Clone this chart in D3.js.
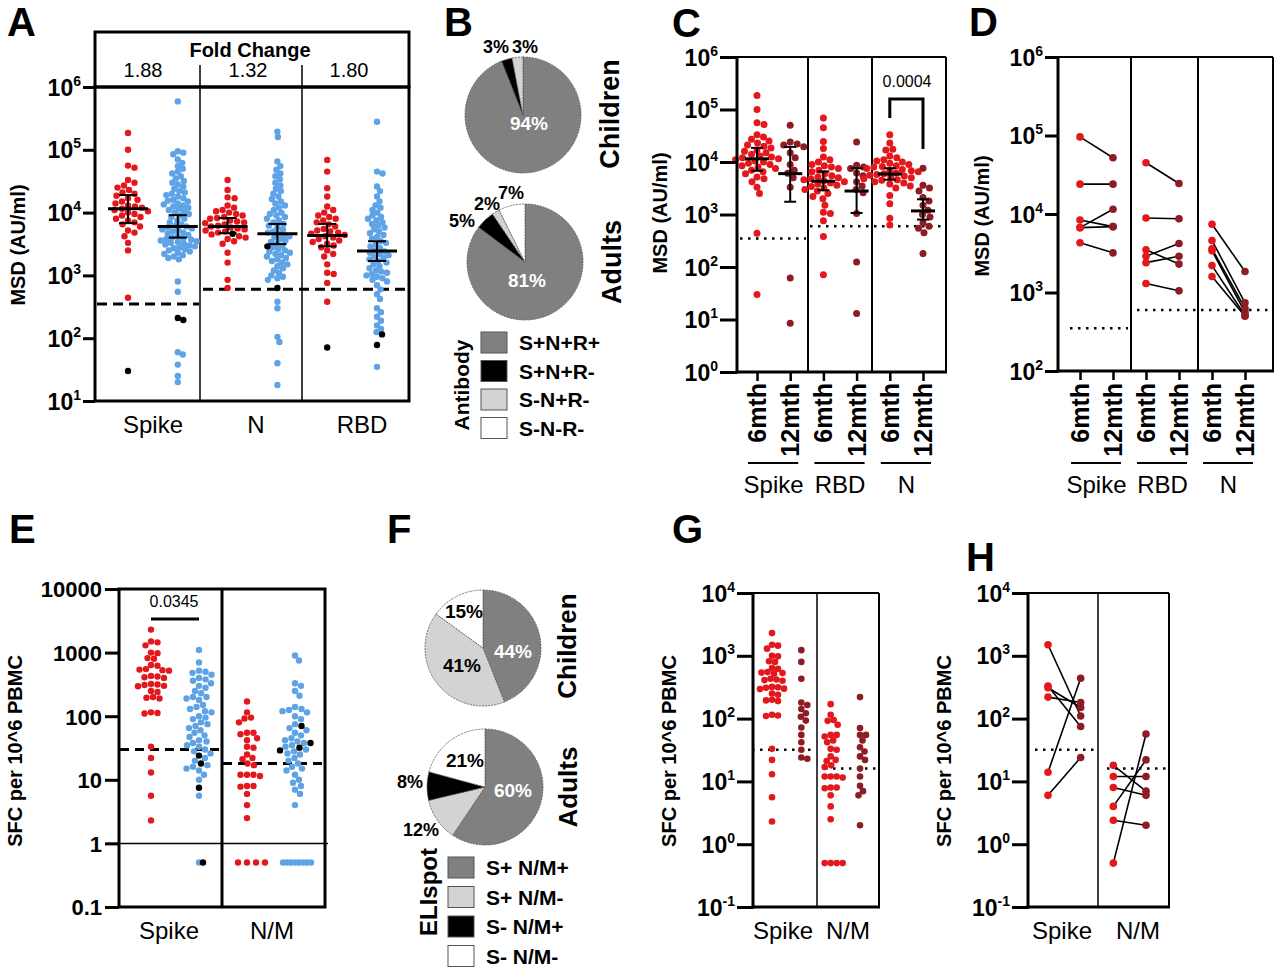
<!DOCTYPE html>
<html>
<head>
<meta charset="utf-8">
<script src="https://cdn.jsdelivr.net/npm/d3@7"></script>
<style>
  body { margin: 0; background: #fff; }
  text { font-family: Arial, 'Liberation Sans', Helvetica, sans-serif; }
</style>
</head>
<body>
<script>
// ---------------- data ----------------
// A: antibody levels, children (red) vs adults (blue); "Neg" = black dots
const aSpikeChildren = [185000, 100000, 56000, 52000, 33000, 30000, 27000, 25000, 23000, 21000, 20000, 18500, 17000, 16000, 15000, 14000, 13000, 12500, 12000, 11500, 11000, 10500, 10000, 9500, 9000, 8500, 8000, 7500, 7000, 6500, 6000, 5200, 4800, 4200, 3300, 2500, 440];
const aSpikeChildrenNeg = [30];
const aSpikeAdults = [590000, 95000, 90000, 85000, 70000, 62000, 55000, 50000, 45000, 42000, 38000, 35000, 32000, 30000, 28000, 26000, 24000, 22000, 21000, 20000,
  19000, 18000, 17000, 16000, 15500, 15000, 14000, 13500, 13000, 12500, 12000, 11500, 11000, 10500, 10000, 9500, 9000, 8500, 8000, 7500, 7000, 6500, 6200,
  6000, 5800, 5600, 5400, 5200, 5000, 4800, 4600, 4400, 4200, 4000, 3900, 3800, 3700, 3600, 3500, 3400, 3300, 3200, 3100, 3000, 2900, 2800, 2700, 2600, 2500, 2400, 2300, 2200, 2100, 2000, 1900, 1800,
  800, 550, 60, 55, 38, 25, 20];
const aSpikeAdultsNeg = [210, 195];
const aNChildren = [33000, 23000, 17500, 17000, 13000, 12000, 11000, 10500, 10000, 9500, 9000, 8500, 8200, 8000, 7500, 7200, 7000, 6800, 6500, 6200, 6000, 5800, 5600, 5400, 5200, 5000, 4800, 4500, 4200, 4000, 3800, 3500, 3200, 2300, 1600, 850, 630];
const aNChildrenNeg = [4600];
const aNAdults = [195000, 160000, 65000, 55000, 48000, 42000, 38000, 34000, 30000, 27000, 24000, 22000, 20000, 18000, 16500, 15000, 14000, 13000, 12000, 11000,
  10000, 9500, 9000, 8500, 8000, 7500, 7000, 6600, 6200, 5800, 5400, 5000, 4800, 4600, 4400, 4200, 4000, 3800, 3600, 3400, 3200, 3000, 2800, 2600, 2500,
  2400, 2300, 2200, 2100, 2000, 1900, 1800, 1700, 1600, 1500, 1400, 1300, 1200, 1100, 1000, 950, 900, 850, 380, 300, 105, 87, 40, 18];
const aNAdultsNeg = [2900, 630];
const aRBDChildren = [69000, 45000, 24500, 18000, 12500, 11000, 10000, 9000, 8500, 8000, 7500, 7000, 6500, 6000, 5500, 5200, 5000, 4800, 4600, 4400, 4200, 4000, 3800, 3600, 3400, 3200, 3000, 2800, 2500, 2200, 2000, 1500, 1100, 1050, 760, 380];
const aRBDChildrenNeg = [71];
const aRBDAdults = [280000, 45000, 42000, 26000, 22000, 18000, 15000, 13000, 12000, 11000, 10000, 9000, 8500, 8000, 7500, 7000, 6600, 6200, 5800, 5400,
  5000, 4700, 4400, 4100, 3800, 3500, 3300, 3100, 2900, 2700, 2500, 2400, 2300, 2200, 2100, 2000, 1900, 1800, 1700, 1600, 1500, 1400, 1300, 1200, 1150,
  1100, 1050, 1000, 950, 900, 850, 800, 700, 600, 500, 420, 300, 260, 220, 190, 160, 140, 125, 35];
const aRBDAdultsNeg = [115, 78];
const aMedian = [11500, 6000, 6000, 4600, 4300, 2450];
const aLow = [6800, 4000, 4700, 3150, 2900, 1700];
const aHigh = [19000, 9100, 8200, 6600, 6600, 3500];
const aFold = ["1.88", "1.32", "1.80"];
const aGroups = ["Spike", "N", "RBD"];
const aCutoff = [350, 600];
const msdTicks = [1, 10, 100, 1e3, 1e4, 1e5, 1e6];

// B: antibody profile pies
const bKeys = ["S+N+R+", "S+N+R-", "S-N+R-", "S-N-R-"];
const bChildren = [94, 3, 3, 0];
const bAdults = [81, 5, 2, 7];

// C: children 6 vs 12 months
const cTimes = ["6mth", "12mth"];
const cGroups = ["Spike", "RBD", "N"];
const cSpike12 = [50000, 24000, 22000, 21000, 19500, 15000, 12000, 9000, 7000, 6100, 5000, 3300, 62, 8.5];
const cRBD12 = [24000, 8700, 8000, 7500, 6200, 5500, 4200, 3500, 3000, 2600, 1050, 125, 13];
const cN12 = [7600, 3600, 3200, 2800, 2100, 1800, 1500, 1200, 1000, 900, 700, 600, 550, 450, 180];
const cMedian = [11500, 6000, 4300, 2800, 5900, 1170];
const cLow = [6800, 1750, 2900, 1070, 4600, 800];
const cHigh = [18600, 19400, 6600, 7600, 7600, 1950];
const cPval = "0.0004";

// D: paired children
const dSpike6 = [96000, 24000, 8400, 6700, 6700, 4300];
const dSpike12 = [52000, 24000, 6900, 11500, 6900, 3200];
const dRBD6 = [45000, 8900, 3500, 2900, 2400, 1300];
const dRBD12 = [24500, 8700, 2300, 4200, 2900, 1050];
const dN6 = [7400, 4600, 3600, 3400, 2200, 1600];
const dN12 = [1850, 740, 630, 560, 510, 500];

// E: ELISpot children (red) vs adults (blue)
const eSpikeChildren = [2300, 1500, 1450, 1300, 1000, 980, 820, 800, 640, 620, 550, 540, 530, 520, 430, 420, 410, 400, 320, 315, 310, 300, 295, 250, 240, 200, 195, 190, 115, 112, 110, 33, 22, 13, 5.6, 2.3];
const eSpikeAdults = [1100, 700, 520, 500, 480, 450, 400, 380, 360, 330, 300, 280, 250, 230, 200, 200, 190, 180, 150, 140, 130, 120, 115, 100, 95, 90, 80, 75, 70, 65, 60, 55, 50, 47, 42, 40, 38, 35, 33, 30, 28, 26, 22, 20, 17, 16, 15, 14, 12, 10, 5.6];
const eSpikeAdultsNeg = [24, 18, 7.5];
const eSpikeAdultsND = [0.5];
const eSpikeAdultsNegND = [0.5];
const eNMChildren = [170, 115, 95, 92, 80, 55, 55, 52, 45, 42, 33, 32, 25, 22, 21, 18, 17, 12, 12, 12, 11.5, 8, 8, 7.8, 6, 4, 2.5];
const eNMChildrenND = [0.5, 0.5, 0.5, 0.5];
const eNMAdults = [900, 750, 330, 300, 250, 210, 140, 130, 125, 120, 115, 100, 90, 75, 65, 60, 55, 50, 45, 42, 40, 38, 35, 33, 30, 28, 26, 25, 22, 20, 18, 16, 15, 14, 12, 10, 9, 8, 7, 6, 4];
const eNMAdultsNeg = [70, 38, 32, 29];
const eNMAdultsND = [0.5, 0.5, 0.5, 0.5, 0.5, 0.5, 0.5, 0.5];
const eGroups = ["Spike", "N/M"];
const eCutoff = [30, 18];
const ePval = "0.0345";
const eTicks = [0.1, 1, 10, 100, 1000, 10000];

// F: ELISpot profile pies
const fKeys = ["S+ N/M+", "S+ N/M-", "S- N/M+", "S- N/M-"];
const fChildren = [44, 41, 0, 15];
const fAdults = [60, 12, 8, 21];

// G / H: ELISpot 6 vs 12 months
const gSpike12 = [1230, 800, 430, 180, 165, 142, 122, 107, 93, 72, 55, 42, 32, 24, 23];
const gNM12 = [220, 71, 55, 55, 45, 35, 30, 25, 22, 16, 12, 8.5, 7, 6, 2];
const gCutoff = [32, 16];
const sfcTicks = [0.1, 1, 10, 100, 1000, 10000];
const hSpike6 = [1500, 330, 310, 220, 14, 6];
const hSpike12 = [110, 75, 150, 180, 440, 24];
const hNM6 = [18, 12, 8, 4, 2.4, 0.5];
const hNM12 = [7, 12, 6, 22, 2, 57];

// ---------------- drawing ----------------
const RED = "#e3181d", BLUE = "#5ea3e6", DARK = "#8e1c24", BLACK = "#000";
const svg = d3.select("body").append("svg").attr("width", 1280).attr("height", 979);

function txt(x, y, s, size, o = {}) {
  return svg.append("text").attr("x", x).attr("y", y).attr("font-size", size)
    .attr("font-weight", o.bold ? "bold" : "normal")
    .attr("text-anchor", o.anchor || "middle")
    .attr("fill", o.fill || "#000")
    .attr("transform", o.rot ? `rotate(-90,${x},${y})` : null)
    .text(s);
}
function line(x1, y1, x2, y2, w, dash) {
  return svg.append("line").attr("x1", x1).attr("y1", y1).attr("x2", x2).attr("y2", y2)
    .attr("stroke", "#000").attr("stroke-width", w).attr("stroke-dasharray", dash || null);
}
function frame(x0, x1, y0, y1, side, thick) {
  line(x0, y0, x1, y0, side); line(x1, y0, x1, y1, side);
  line(x0, y0 - 1, x0, y1 + 1.5, thick); line(x0 - 1.5, y1, x1 + 1, y1, thick);
}
function powAxis(y, x0, ticks, len) {
  const g = svg.append("g").attr("transform", `translate(${x0},0)`);
  g.call(d3.axisLeft(y).tickValues(ticks).tickSize(len).tickSizeOuter(0).tickFormat(""));
  g.select(".domain").remove();
  g.selectAll(".tick line").attr("stroke", "#000").attr("stroke-width", 3);
  g.selectAll(".tick").each(function (d) {
    const t = d3.select(this).append("text").attr("x", -len - 2).attr("y", 8).attr("dy", 0)
      .attr("text-anchor", "end").attr("font-size", 23).attr("font-weight", "bold").attr("fill", "#000");
    t.append("tspan").text("10");
    t.append("tspan").attr("dy", -10).attr("font-size", 14).text(Math.round(Math.log10(d)));
  });
}
function swarm(items, y, cx, d) {
  const out = [];
  items.slice().sort((a, b) => b.v - a.v).forEach(it => {
    const py = y(it.v);
    let px = cx;
    for (let k = 0; k < 800; k++) {
      const tx = cx + (k % 2 ? 1 : -1) * Math.ceil(k / 2) * 0.5;
      if (out.every(o => (o.x - tx) ** 2 + (o.y - py) ** 2 >= d * d)) { px = tx; break; }
    }
    out.push({ v: it.v, c: it.c, x: px, y: py });
  });
  return out;
}
const mk = (vals, c) => vals.map(v => ({ v, c }));
function dots(pts, r) {
  const sorted = pts.slice().sort((a, b) => (a.c === BLACK) - (b.c === BLACK));
  svg.append("g").selectAll("circle").data(sorted).join("circle")
    .attr("cx", d => d.x).attr("cy", d => d.y).attr("r", r).attr("fill", d => d.c);
}
function medBar(cx, y, med, lo, hi, hw, cw, wm, we) {
  line(cx, y(hi), cx, y(lo), we);
  line(cx - cw, y(hi), cx + cw, y(hi), we);
  line(cx - cw, y(lo), cx + cw, y(lo), we);
  line(cx - hw, y(med), cx + hw, y(med), wm);
}
function letter(x, y, s) { txt(x, y, s, 40, { bold: true, anchor: "start" }); }
function pie(cx, cy, vals, colors) {
  const arcs = d3.pie().sort(null)(vals);
  const arc = d3.arc().innerRadius(0).outerRadius(58);
  svg.append("g").attr("transform", `translate(${cx},${cy})`)
    .selectAll("path").data(arcs.filter(a => a.value > 0)).join("path")
    .attr("d", arc).attr("fill", d => colors[d.index])
    .attr("stroke", "#555").attr("stroke-width", 0.8).attr("stroke-dasharray", "2,1");
}
function legend(x, y0, step, keys, colors, size) {
  keys.forEach((k, i) => {
    svg.append("rect").attr("x", x).attr("y", y0 + i * step).attr("width", 26).attr("height", 21)
      .attr("fill", colors[i]).attr("stroke", "#555").attr("stroke-width", 1);
    txt(x + 38, y0 + i * step + 18, k, size, { bold: true, anchor: "start" });
  });
}

// ===== Panel A =====
letter(7, 36, "A");
const yA = d3.scaleLog().domain([10, 1e6]).range([401, 87]);
const xA = d3.scalePoint().domain(d3.range(6)).range([128, 377]);
svg.append("rect").attr("x", 95).attr("y", 32).attr("width", 314).attr("height", 55).attr("fill", "none").attr("stroke", "#000").attr("stroke-width", 3);
txt(250, 57, "Fold Change", 20, { bold: true });
[143, 248, 349].forEach((x, i) => txt(x, 77, aFold[i], 20));
[200, 302].forEach(x => line(x, 65, x, 401, 1.5));
line(97, yA(aCutoff[0]), 199, yA(aCutoff[0]), 3, "10,6");
line(203, yA(aCutoff[1]), 407, yA(aCutoff[1]), 3, "10,6");
const aCols = [
  mk(aSpikeChildren, RED).concat(mk(aSpikeChildrenNeg, BLACK)),
  mk(aSpikeAdults, BLUE).concat(mk(aSpikeAdultsNeg, BLACK)),
  mk(aNChildren, RED).concat(mk(aNChildrenNeg, BLACK)),
  mk(aNAdults, BLUE).concat(mk(aNAdultsNeg, BLACK)),
  mk(aRBDChildren, RED).concat(mk(aRBDChildrenNeg, BLACK)),
  mk(aRBDAdults, BLUE).concat(mk(aRBDAdultsNeg, BLACK))
];
aCols.forEach((items, i) => dots(swarm(items, yA, xA(i), i % 2 ? 5.4 : 6.6), 3.2));
aCols.forEach((_, i) => medBar(xA(i), yA, aMedian[i], aLow[i], aHigh[i], 20, 9, 3, 2));
svg.append("rect").attr("x", 95).attr("y", 87).attr("width", 314).attr("height", 314).attr("fill", "none").attr("stroke", "#000").attr("stroke-width", 3);
powAxis(yA, 95, msdTicks.filter(t => t >= 10), 12);
[153, 256, 362].forEach((x, i) => txt(x, 433, aGroups[i], 24));
txt(25, 245, "MSD (AU/ml)", 20, { bold: true, rot: true });

// ===== Panel B =====
letter(444, 36, "B");
const bColors = ["#808080", "#000", "#d3d3d3", "#fff"];
pie(523, 115, bChildren, bColors);
pie(525, 262, bAdults, bColors);
txt(529, 130, bChildren[0] + "%", 19, { bold: true, fill: "#fff" });
txt(496, 53, bChildren[1] + "%", 18, { bold: true });
txt(525, 53, bChildren[2] + "%", 18, { bold: true });
txt(527, 287, bAdults[0] + "%", 19, { bold: true, fill: "#fff" });
txt(462, 227, bAdults[1] + "%", 18, { bold: true });
txt(487, 210, bAdults[2] + "%", 18, { bold: true });
txt(511, 199, bAdults[3] + "%", 18, { bold: true });
txt(619, 114, "Children", 27, { bold: true, rot: true });
txt(621, 262, "Adults", 27, { bold: true, rot: true });
legend(481, 332, 28.5, bKeys, bColors, 21);
txt(469, 385, "Antibody", 21, { bold: true, rot: true });

// ===== Panel C =====
letter(672, 37, "C");
const yC = d3.scaleLog().domain([1, 1e6]).range([372, 57]);
const xC = d3.scalePoint().domain(d3.range(6)).range([757, 923]);
[808, 872].forEach(x => line(x, 57, x, 372, 2));
line(740, yC(aCutoff[0]), 806, yC(aCutoff[0]), 2.5, "2.5,5.5");
line(810, yC(aCutoff[1]), 944, yC(aCutoff[1]), 2.5, "2.5,5.5");
const cCols = [
  mk(aSpikeChildren.concat(aSpikeChildrenNeg), RED), mk(cSpike12, DARK),
  mk(aRBDChildren.concat(aRBDChildrenNeg), RED), mk(cRBD12, DARK),
  mk(aNChildren.concat(aNChildrenNeg), RED), mk(cN12, DARK)
];
cCols.forEach((items, i) => dots(swarm(items, yC, xC(i), 6.8), 3.5));
cCols.forEach((_, i) => medBar(xC(i), yC, cMedian[i], cLow[i], cHigh[i], 12, 6, 3, 2));
frame(737, 946, 57, 372, 2, 3);
powAxis(yC, 737, msdTicks, 17);
const gxC = svg.append("g").attr("transform", "translate(0,372)")
  .call(d3.axisBottom(xC).tickSize(9).tickSizeOuter(0).tickFormat(""));
gxC.select(".domain").remove();
gxC.selectAll(".tick line").attr("stroke", "#000").attr("stroke-width", 2.5);
d3.range(6).forEach(i => txt(xC(i) + 9, 383, cTimes[i % 2], 25, { bold: true, anchor: "end", rot: true }));
d3.range(3).forEach(j => {
  line(xC(2 * j) - 9, 463, xC(2 * j + 1) + 8, 463, 2);
  txt((xC(2 * j) + xC(2 * j + 1)) / 2, 493, cGroups[j], 24);
});
svg.append("path").attr("d", `M${xC(4)},118V99H${xC(5)}V149`).attr("fill", "none").attr("stroke", "#000").attr("stroke-width", 3);
txt(907, 87, cPval, 16);
txt(667, 213, "MSD (AU/ml)", 20, { bold: true, rot: true });

// ===== Panel D =====
letter(969, 36, "D");
const yD = d3.scaleLog().domain([100, 1e6]).range([371, 57]);
const xD = d3.scalePoint().domain(d3.range(6)).range([1080, 1245]);
[1131, 1198].forEach(x => line(x, 57, x, 371, 2));
line(1070, yD(aCutoff[0]), 1128, yD(aCutoff[0]), 2.5, "2.5,5.5");
line(1137, yD(aCutoff[1]), 1270, yD(aCutoff[1]), 2.5, "2.5,5.5");
[[dSpike6, dSpike12], [dRBD6, dRBD12], [dN6, dN12]].forEach(([a, b], j) => {
  a.forEach((v, k) => line(xD(2 * j), yD(v), xD(2 * j + 1), yD(b[k]), 1.6));
  dots(a.map(v => ({ v, c: RED, x: xD(2 * j), y: yD(v) })), 3.8);
  dots(b.map(v => ({ v, c: DARK, x: xD(2 * j + 1), y: yD(v) })), 3.8);
});
frame(1058, 1273, 57, 371, 2, 3);
powAxis(yD, 1058, msdTicks.filter(t => t >= 100), 13);
const gxD = svg.append("g").attr("transform", "translate(0,371)")
  .call(d3.axisBottom(xD).tickSize(9).tickSizeOuter(0).tickFormat(""));
gxD.select(".domain").remove();
gxD.selectAll(".tick line").attr("stroke", "#000").attr("stroke-width", 2.5);
d3.range(6).forEach(i => txt(xD(i) + 9, 383, cTimes[i % 2], 25, { bold: true, anchor: "end", rot: true }));
d3.range(3).forEach(j => {
  line(xD(2 * j) - 9, 463, xD(2 * j + 1) + 8, 463, 2);
  txt((xD(2 * j) + xD(2 * j + 1)) / 2, 493, cGroups[j], 24);
});
txt(989, 216, "MSD (AU/ml)", 20, { bold: true, rot: true });

// ===== Panel E =====
letter(9, 543, "E");
const yE = d3.scaleLog().domain([0.1, 10000]).range([907, 589]);
const xE = d3.scalePoint().domain(d3.range(4)).range([151, 295]);
line(107, yE(1), 328, yE(1), 1.5);
line(120, yE(eCutoff[0]), 221, yE(eCutoff[0]), 3, "9,6");
line(223, yE(eCutoff[1]), 324, yE(eCutoff[1]), 3, "9,6");
const eCols = [
  mk(eSpikeChildren, RED),
  mk(eSpikeAdults, BLUE).concat(mk(eSpikeAdultsNeg, BLACK)),
  mk(eNMChildren, RED),
  mk(eNMAdults, BLUE).concat(mk(eNMAdultsNeg, BLACK))
];
eCols.forEach((items, i) => dots(swarm(items, yE, xE(i), 6.4), 3.2));
const eND = [[], mk(eSpikeAdultsND, BLUE).concat(mk(eSpikeAdultsNegND, BLACK)), mk(eNMChildrenND, RED), mk(eNMAdultsND, BLUE)];
eND.forEach((items, i) => dots(swarm(items, yE, xE(i), i === 2 ? 9 : 4), 3.2));
svg.append("rect").attr("x", 119).attr("y", 589).attr("width", 206).attr("height", 318).attr("fill", "none").attr("stroke", "#000").attr("stroke-width", 3);
line(222, 589, 222, 907, 3);
const gyE = svg.append("g").attr("transform", "translate(119,0)")
  .call(d3.axisLeft(yE).tickValues(eTicks).tickSize(14).tickSizeOuter(0).tickPadding(3).tickFormat(d3.format("~g")));
gyE.select(".domain").remove();
gyE.selectAll(".tick line").attr("stroke", "#000").attr("stroke-width", 3);
gyE.selectAll(".tick text").attr("font-size", 22).attr("font-weight", "bold").attr("fill", "#000").attr("dy", "0.36em");
line(xE(0), 619, xE(1), 619, 3);
txt(174, 607, ePval, 16);
[169, 272].forEach((x, i) => txt(x, 939, eGroups[i], 24));
txt(22, 751, "SFC per 10^6 PBMC", 20, { bold: true, rot: true });

// ===== Panel F =====
letter(387, 543, "F");
const fColors = ["#808080", "#d3d3d3", "#000", "#fff"];
pie(483, 648, fChildren, fColors);
pie(485, 787, fAdults, fColors);
txt(513, 658, fChildren[0] + "%", 19, { bold: true, fill: "#fff" });
txt(462, 672, fChildren[1] + "%", 19, { bold: true });
txt(464, 618, fChildren[3] + "%", 19, { bold: true });
txt(513, 797, fAdults[0] + "%", 19, { bold: true, fill: "#fff" });
txt(421, 836, fAdults[1] + "%", 18, { bold: true });
txt(410, 788, fAdults[2] + "%", 18, { bold: true });
txt(465, 767, fAdults[3] + "%", 19, { bold: true });
txt(576, 646, "Children", 26, { bold: true, rot: true });
txt(577, 787, "Adults", 26, { bold: true, rot: true });
legend(448, 857, 29.5, fKeys, fColors, 21);
txt(437, 892, "ELIspot", 24, { bold: true, rot: true });

// ===== Panel G =====
letter(672, 543, "G");
const yG = d3.scaleLog().domain([0.1, 10000]).range([907, 593]);
const xG = d3.scalePoint().domain(d3.range(4)).range([772, 860]);
line(817, 593, 817, 907, 1.5);
line(752, yG(gCutoff[0]), 816, yG(gCutoff[0]), 2.5, "2.5,5.5");
line(825, yG(gCutoff[1]), 878, yG(gCutoff[1]), 2.5, "2.5,5.5");
const gCols = [mk(eSpikeChildren, RED), mk(gSpike12, DARK), mk(eNMChildren.concat(eNMChildrenND), RED), mk(gNM12, DARK)];
gCols.forEach((items, i) => dots(swarm(items, yG, xG(i), 6), 3.3));
frame(753, 879, 593, 907, 2, 3);
powAxis(yG, 753, sfcTicks, 16);
[783, 848].forEach((x, i) => txt(x, 939, eGroups[i], 24));
txt(676, 751, "SFC per 10^6 PBMC", 20, { bold: true, rot: true });

// ===== Panel H =====
letter(966, 571, "H");
const yH = d3.scaleLog().domain([0.1, 10000]).range([907, 593]);
const xH = d3.scalePoint().domain(d3.range(4)).range([1048, 1146]);
line(1098, 593, 1098, 907, 1.5);
line(1035, yH(gCutoff[0]), 1097, yH(gCutoff[0]), 2.5, "2.5,5.5");
line(1107, yH(gCutoff[1]), 1168, yH(gCutoff[1]), 2.5, "2.5,5.5");
[[hSpike6, hSpike12], [hNM6, hNM12]].forEach(([a, b], j) => {
  a.forEach((v, k) => line(xH(2 * j), yH(v), xH(2 * j + 1), yH(b[k]), 1.6));
  dots(a.map(v => ({ v, c: RED, x: xH(2 * j), y: yH(v) })), 3.8);
  dots(b.map(v => ({ v, c: DARK, x: xH(2 * j + 1), y: yH(v) })), 3.8);
});
frame(1028, 1169, 593, 907, 2, 3);
powAxis(yH, 1028, sfcTicks, 16);
[1062, 1138].forEach((x, i) => txt(x, 939, eGroups[i], 24));
txt(951, 751, "SFC per 10^6 PBMC", 20, { bold: true, rot: true });
</script>
</body>
</html>
